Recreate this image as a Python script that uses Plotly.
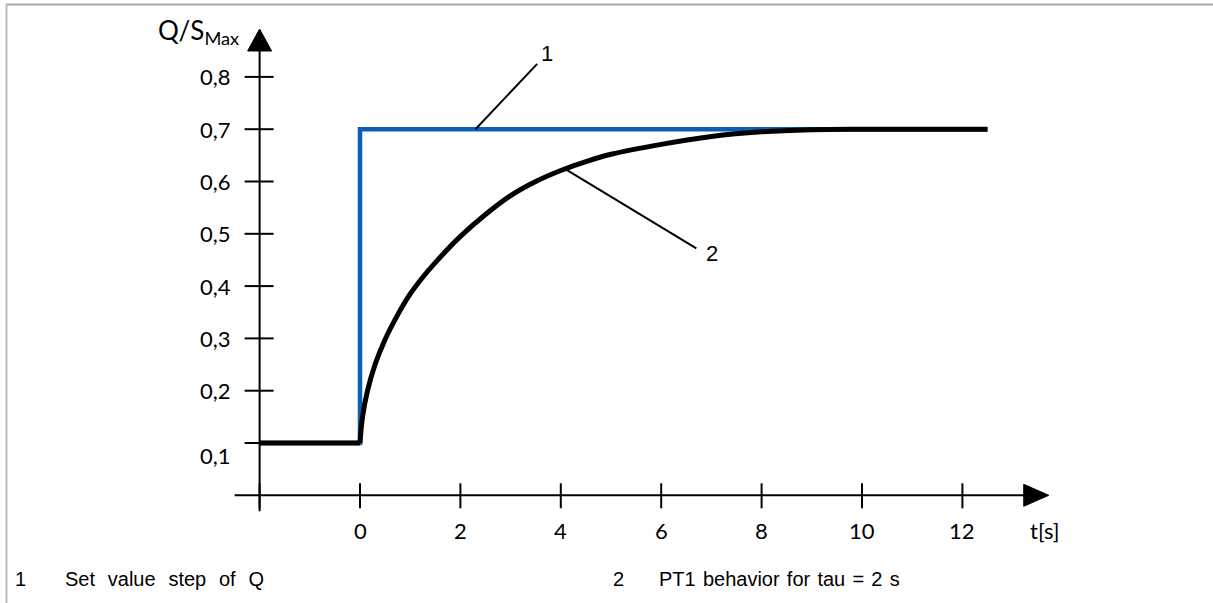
import plotly.graph_objects as go

# ---------------- data ----------------
step_t = [-2, 0, 0, 12.5]
step_q = [0.1, 0.1, 0.7, 0.7]

hold_t = [-2, 0]
hold_q = [0.1, 0.1]

pt1_t = [0, 0.05, 0.15, 0.3, 0.5, 0.75, 1.0, 1.25, 1.5, 2.0, 2.5, 3.0, 3.5, 4.0, 4.5, 5, 6, 7, 8, 9, 10, 12.5]
pt1_q = [0.1, 0.15, 0.2, 0.25, 0.298, 0.345, 0.385, 0.417, 0.445, 0.495, 0.537, 0.573, 0.6, 0.621,
         0.638, 0.652, 0.671, 0.686, 0.695, 0.699, 0.7, 0.7]

x_ticks = [-2, 0, 2, 4, 6, 8, 10, 12]
x_tick_labels = ["", "0", "2", "4", "6", "8", "10", "12"]
y_ticks = [0.1, 0.2, 0.3, 0.4, 0.5, 0.6, 0.7, 0.8]
y_tick_labels = ["0,1", "0,2", "0,3", "0,4", "0,5", "0,6", "0,7", "0,8"]

legend_nums = ["1", "2"]
legend_texts = ["Set value step of Q", "PT1 behavior for tau = 2 s"]

callout_nums = ["1", "2"]
callout_anchor_t = [2.3, 4.1]
callout_anchor_q = [0.7, 0.623]
callout_end_t = [3.53, 6.7]
callout_end_q = [0.825, 0.472]

# ---------------- geometry ----------------
W, H = 1213, 603
PX_X = 50.2     # pixels per unit on x
PX_Y = 523.0    # pixels per unit on y
X0_PX = 360.0   # pixel column of t = 0
Y0_PX = 495.3   # pixel row of q = 0

xr = [(0 - X0_PX) / PX_X, (W - X0_PX) / PX_X]
yr = [(Y0_PX - H) / PX_Y, (Y0_PX - 0) / PX_Y]


def dx(px):
    return px / PX_X


def dy(px):
    return px / PX_Y


x_axis_at = -2.0
y_axis_at = 0.0
x_axis_start = x_axis_at - dx(25)
x_axis_tip = 13.72
y_axis_bottom = y_axis_at - dy(16)
y_axis_tip = dy(Y0_PX - 29)

fig = go.Figure()

fig.add_trace(go.Scatter(x=step_t, y=step_q, mode="lines",
                         line=dict(color="#0a5fb4", width=4.5),
                         hoverinfo="skip", showlegend=False))
fig.add_trace(go.Scatter(x=hold_t, y=hold_q, mode="lines",
                         line=dict(color="#000000", width=5),
                         hoverinfo="skip", showlegend=False))
fig.add_trace(go.Scatter(x=pt1_t, y=pt1_q, mode="lines", line_shape="spline",
                         line=dict(color="#000000", width=5, smoothing=1.0),
                         hoverinfo="skip", showlegend=False))

shapes = []
# axes
shapes.append(dict(type="line", xref="x", yref="y", x0=x_axis_start, x1=x_axis_tip - dx(20),
                   y0=y_axis_at, y1=y_axis_at, line=dict(color="black", width=2)))
shapes.append(dict(type="line", xref="x", yref="y", x0=x_axis_at, x1=x_axis_at,
                   y0=y_axis_bottom, y1=y_axis_tip - dy(20), line=dict(color="black", width=2)))
# arrowheads
shapes.append(dict(type="path", xref="x", yref="y",
                   path=f"M {x_axis_tip - dx(25)} {y_axis_at + dy(11)} L {x_axis_tip} {y_axis_at} "
                        f"L {x_axis_tip - dx(25)} {y_axis_at - dy(11)} Z",
                   fillcolor="black", line=dict(color="black", width=1)))
shapes.append(dict(type="path", xref="x", yref="y",
                   path=f"M {x_axis_at - dx(12)} {y_axis_tip - dy(22)} L {x_axis_at} {y_axis_tip} "
                        f"L {x_axis_at + dx(12)} {y_axis_tip - dy(22)} Z",
                   fillcolor="black", line=dict(color="black", width=1)))
# x ticks
for t in x_ticks:
    shapes.append(dict(type="line", xref="x", yref="y", x0=t, x1=t,
                       y0=y_axis_at - dy(13), y1=y_axis_at + dy(12),
                       line=dict(color="black", width=2)))
# y ticks
for v in y_ticks:
    shapes.append(dict(type="line", xref="x", yref="y", x0=x_axis_at - dx(15), x1=x_axis_at + dx(14),
                       y0=v, y1=v, line=dict(color="black", width=2)))
# leader lines
for at, aq, et, eq in zip(callout_anchor_t, callout_anchor_q, callout_end_t, callout_end_q):
    shapes.append(dict(type="line", xref="x", yref="y", x0=at, y0=aq, x1=et, y1=eq,
                       line=dict(color="black", width=2)))
# frame lines (top and left)
shapes.append(dict(type="line", xref="paper", yref="paper", x0=6 / W, x1=1, y0=1 - 4.5 / H, y1=1 - 4.5 / H,
                   line=dict(color="#aaaaaa", width=2)))
shapes.append(dict(type="line", xref="paper", yref="paper", x0=6.5 / W, x1=6.5 / W, y0=0, y1=1 - 4.5 / H,
                   line=dict(color="#bbbbbb", width=2)))

annotations = []
tick_font = dict(family="Lato, Carlito, Open Sans, sans-serif", size=22, color="black")
for t, lab in zip(x_ticks, x_tick_labels):
    if lab:
        annotations.append(dict(x=t, y=y_axis_at, xref="x", yref="y", text=lab, showarrow=False,
                                xanchor="center", yanchor="middle", yshift=-35, font=tick_font))
for v, lab in zip(y_ticks, y_tick_labels):
    annotations.append(dict(x=x_axis_at, y=v, xref="x", yref="y", text=lab, showarrow=False,
                            xanchor="right", yanchor="middle", xshift=-27,
                            yshift=-12 if v == y_ticks[0] else 0, font=tick_font))
# axis titles
annotations.append(dict(x=x_axis_tip, y=y_axis_at, xref="x", yref="y", text="t[s]", showarrow=False,
                        xanchor="center", yanchor="middle", xshift=-4, yshift=-35, font=tick_font))
annotations.append(dict(x=x_axis_at, y=y_axis_tip, xref="x", yref="y",
                        text="Q/S<sub>Max</sub>", showarrow=False,
                        xanchor="right", yanchor="middle", xshift=-19, yshift=-2,
                        font=dict(family="Lato, Carlito, Open Sans, sans-serif", size=26, color="black")))

# callout numbers
call_font = dict(family="Liberation Sans, Arial, sans-serif", size=22, color="black")
annotations.append(dict(x=callout_end_t[0], y=callout_end_q[0], xref="x", yref="y", text=callout_nums[0],
                        showarrow=False, xanchor="left", yanchor="bottom", xshift=2, yshift=-4,
                        font=call_font))
annotations.append(dict(x=callout_end_t[1], y=callout_end_q[1], xref="x", yref="y", text=callout_nums[1],
                        showarrow=False, xanchor="left", yanchor="middle", xshift=8, yshift=-5,
                        font=call_font))

# bottom legend text
leg_font = dict(family="Liberation Sans, Arial, sans-serif", size=20, color="black")
leg_num_x = [20, 618]
leg_txt_x = [63, 657]
leg_gap = ["&nbsp;&nbsp;&#8202;", " &#8202;"]
for num, txt, nx, tx, gap in zip(legend_nums, legend_texts, leg_num_x, leg_txt_x, leg_gap):
    annotations.append(dict(x=nx / W, y=1 - 579 / H, xref="paper", yref="paper", text=num,
                            showarrow=False, xanchor="center", yanchor="middle", font=leg_font))
    annotations.append(dict(x=tx / W, y=1 - 579 / H, xref="paper", yref="paper",
                            text=txt.replace(" ", gap),
                            showarrow=False, xanchor="left", yanchor="middle", font=leg_font))

fig.update_layout(
    width=W, height=H, autosize=False,
    margin=dict(l=0, r=0, t=0, b=0, pad=0),
    paper_bgcolor="white", plot_bgcolor="white",
    xaxis=dict(range=xr, visible=False, fixedrange=True),
    yaxis=dict(range=yr, visible=False, fixedrange=True),
    shapes=shapes, annotations=annotations, showlegend=False,
)

fig.write_html("out.html", config={"displayModeBar": False},
               post_script="document.body.style.margin='0';document.body.style.padding='0';")
